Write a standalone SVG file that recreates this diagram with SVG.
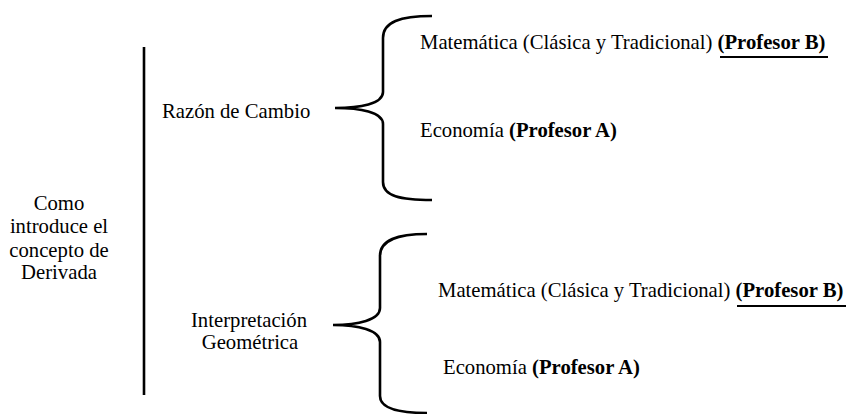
<svg xmlns="http://www.w3.org/2000/svg" width="859" height="414" viewBox="0 0 859 414">
<style>
text{font-family:"Liberation Serif","Times New Roman",serif;font-size:20.7px;fill:#000}
.b{font-weight:bold}
.c{text-anchor:middle}
.ln{stroke:#000;fill:none;stroke-width:2.6}
.ul{stroke:#000;stroke-width:2.2}
</style>
<rect width="859" height="414" fill="#fff"/>
<g id="root">
<text class="c" x="59" y="210">Como</text>
<text class="c" x="59" y="233">introduce el</text>
<text class="c" x="59" y="257">concepto de</text>
<text class="c" x="59" y="279">Derivada</text>
</g>
<g id="razon"><text x="162" y="118">Razón de Cambio</text></g>
<g id="interp">
<text class="c" x="249" y="327">Interpretación</text>
<text class="c" x="250" y="349">Geométrica</text>
</g>
<g id="rc-mat">
<text x="420" y="49">Matemática (Clásica y Tradicional) <tspan class="b">(Profesor B)</tspan></text>
<line class="ul" x1="720" y1="57" x2="828" y2="57"/>
</g>
<g id="rc-eco"><text x="420" y="137">Economía <tspan class="b">(Profesor A)</tspan></text></g>
<g id="ig-mat">
<text x="438" y="297">Matemática (Clásica y Tradicional) <tspan class="b">(Profesor B)</tspan></text>
<line class="ul" x1="737" y1="306" x2="846" y2="306"/>
</g>
<g id="ig-eco"><text x="443" y="374">Economía <tspan class="b">(Profesor A)</tspan></text></g>
<g id="connectors">
<line class="ln" x1="144" y1="47" x2="144" y2="395" stroke-width="3"/>
<path class="ln" d="M432,16 C400,16 383,22 383,38 L383,92 C383,104 360,108 335,108 C360,108 383,112 383,124 L383,182 C383,196 400,200 432,200"/>
<path class="ln" d="M427,234 C397,234 380,240 380,256 L380,308 C380,320 358,325 333,325 C358,325 380,330 380,342 L380,396 C380,408 397,413 427,413"/>
</g>
</svg>
